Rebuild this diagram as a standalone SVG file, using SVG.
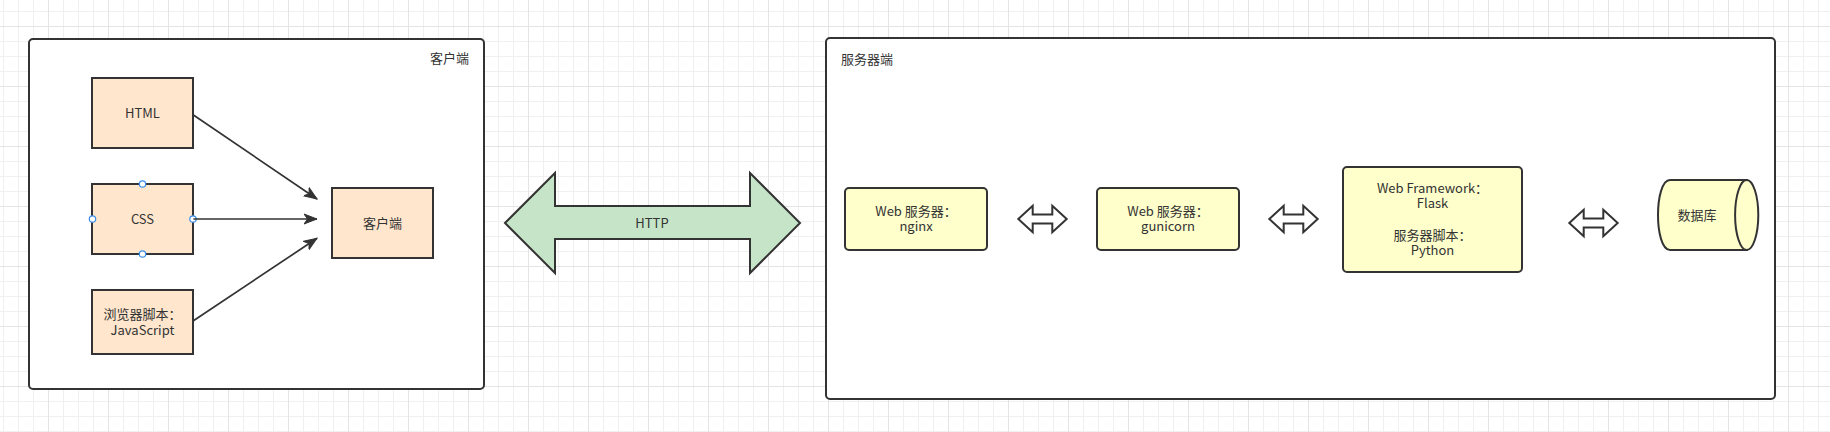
<svg xmlns="http://www.w3.org/2000/svg" width="1830" height="432" viewBox="0 0 1830 432">
<style>
  text { font-family: "Noto Sans CJK SC", "Noto Sans", sans-serif; font-size: 13px; fill: #333333; }
  .mid { text-anchor: middle; }
  .container { fill: #ffffff; stroke: #333333; stroke-width: 2; }
  .orange { fill: #ffe6cc; stroke: #333333; stroke-width: 2; }
  .yellow { fill: #ffffcc; stroke: #333333; stroke-width: 2; }
  .edge { fill: none; stroke: #333333; stroke-width: 1.7; }
  .dbl { fill: #ffffff; stroke: #333333; stroke-width: 2; stroke-linejoin: miter; }
  .handle { fill: #ffffff; stroke: #3b8eea; stroke-width: 1.2; }
</style>
<defs>
  <pattern id="grid" patternUnits="userSpaceOnUse" x="48" y="26" width="60" height="60">
    <rect x="0" y="0" width="60" height="60" fill="#ffffff"/>
    <rect x="15" y="0" width="1" height="60" fill="#f0f0f0"/>
    <rect x="30" y="0" width="1" height="60" fill="#f0f0f0"/>
    <rect x="45" y="0" width="1" height="60" fill="#f0f0f0"/>
    <rect x="0" y="15" width="60" height="1" fill="#f0f0f0"/>
    <rect x="0" y="30" width="60" height="1" fill="#f0f0f0"/>
    <rect x="0" y="45" width="60" height="1" fill="#f0f0f0"/>
    <rect x="0" y="0" width="1" height="60" fill="#e4e4e4"/>
    <rect x="0" y="0" width="60" height="1" fill="#e4e4e4"/>
  </pattern>
  <marker id="arrow" markerUnits="userSpaceOnUse" markerWidth="14" markerHeight="12" viewBox="0 0 14 12" refX="13" refY="6" orient="auto">
    <path d="M0,1 L13,6 L0,11 L3.5,6 Z" fill="#333333" stroke="#333333" stroke-width="1"/>
  </marker>
</defs>
<rect x="0" y="0" width="1830" height="432" fill="url(#grid)"/>

<g id="client-container">
  <rect class="container" x="29" y="39" width="455" height="350" rx="4"/>
  <text x="469" y="63" text-anchor="end">客户端</text>
</g>
<g id="server-container">
  <rect class="container" x="826" y="38" width="949" height="361" rx="4"/>
  <text x="841" y="64">服务器端</text>
</g>

<g id="node-html">
  <rect class="orange" x="92" y="78" width="101" height="70"/>
  <text class="mid" x="142.5" y="117.5">HTML</text>
</g>
<g id="node-css">
  <rect class="orange" x="92" y="184" width="101" height="70"/>
  <text class="mid" x="142.5" y="223.5">CSS</text>
  <circle class="handle" cx="142.5" cy="184" r="3.2"/>
  <circle class="handle" cx="142.5" cy="254" r="3.2"/>
  <circle class="handle" cx="92.5" cy="219" r="3.2"/>
  <circle class="handle" cx="193" cy="219" r="3.2"/>
</g>
<g id="node-js">
  <rect class="orange" x="92" y="290" width="101" height="64"/>
  <text class="mid" x="142.5" y="318.5">浏览器脚本：</text>
  <text class="mid" x="142.5" y="334.5">JavaScript</text>
</g>
<g id="node-client">
  <rect class="orange" x="332" y="188" width="101" height="70"/>
  <text class="mid" x="382.5" y="227.5">客户端</text>
</g>

<g id="node-http">
  <path d="M505,223 L555,173 L555,206 L750,206 L750,173 L800,223 L750,273 L750,239 L555,239 L555,273 Z" fill="#c6e5c8" stroke="#333333" stroke-width="2" stroke-linejoin="miter"/>
  <text class="mid" x="652" y="227.5">HTTP</text>
</g>

<g id="node-nginx">
  <rect class="yellow" x="845" y="188" width="142" height="62" rx="4"/>
  <text class="mid" x="916" y="215.5">Web 服务器：</text>
  <text class="mid" x="916" y="231">nginx</text>
</g>
<g id="node-gunicorn">
  <rect class="yellow" x="1097" y="188" width="142" height="62" rx="4"/>
  <text class="mid" x="1168" y="215.5">Web 服务器：</text>
  <text class="mid" x="1168" y="231">gunicorn</text>
</g>
<g id="node-flask">
  <rect class="yellow" x="1343" y="167" width="179" height="105" rx="4"/>
  <text class="mid" x="1432.5" y="192.8">Web Framework：</text>
  <text class="mid" x="1432.5" y="208.4">Flask</text>
  <text class="mid" x="1432.5" y="239.6">服务器脚本：</text>
  <text class="mid" x="1432.5" y="255.2">Python</text>
</g>
<g id="node-db">
  <path class="yellow" d="M1746.7,180 L1670,180 C1662,180 1658,198 1658,215 C1658,232 1662,250 1670,250 L1746.7,250 Z"/>
  <ellipse class="yellow" cx="1746.7" cy="215" rx="11.6" ry="35"/>
  <text class="mid" x="1697" y="219.5">数据库</text>
</g>

<g id="connectors">
  <line class="edge" x1="193.4" y1="115" x2="317" y2="199" marker-end="url(#arrow)"/>
  <line class="edge" x1="193.4" y1="219" x2="317" y2="219" marker-end="url(#arrow)"/>
  <line class="edge" x1="193.4" y1="320.7" x2="317" y2="238.3" marker-end="url(#arrow)"/>
  <path class="dbl" d="M1018.3,219 L1032.7,205.7 L1032.7,214.5 L1052.3,214.5 L1052.3,205.7 L1066.7,219 L1052.3,232.3 L1052.3,223.5 L1032.7,223.5 L1032.7,232.3 Z"/>
  <path class="dbl" d="M1269.3,219 L1283.7,205.7 L1283.7,214.5 L1303.3,214.5 L1303.3,205.7 L1317.7,219 L1303.3,232.3 L1303.3,223.5 L1283.7,223.5 L1283.7,232.3 Z"/>
  <path class="dbl" d="M1569.3,223 L1583.7,209.7 L1583.7,218.5 L1603.3,218.5 L1603.3,209.7 L1617.7,223 L1603.3,236.3 L1603.3,227.5 L1583.7,227.5 L1583.7,236.3 Z"/>
</g>
</svg>
